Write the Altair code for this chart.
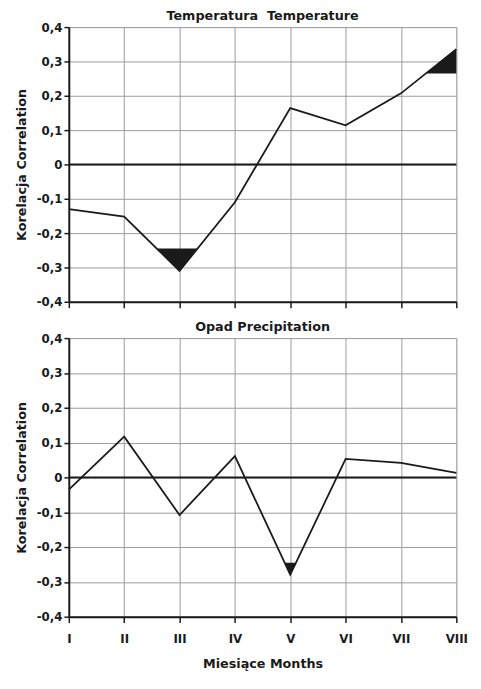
import altair as alt
import pandas as pd

months = ["I", "II", "III", "IV", "V", "VI", "VII", "VIII"]
temperature = [-0.13, -0.152, -0.31, -0.11, 0.164, 0.114, 0.207, 0.336]
precipitation = [-0.035, 0.117, -0.108, 0.061, -0.279, 0.053, 0.042, 0.013]
lower_threshold = -0.245
upper_threshold = 0.265
y_ticks = [-0.4, -0.3, -0.2, -0.1, 0.0, 0.1, 0.2, 0.3, 0.4]

FONT = "DejaVu Sans"
INK = "#1a1a1a"
GRID = "#9a9a9a"


def regions(vals, thr, sign, start_grp):
    out = []
    cur = []
    def ex(v):
        return sign * (v - thr) > 0
    for i, v in enumerate(vals):
        if i > 0:
            p = vals[i - 1]
            if ex(p) != ex(v):
                t = (thr - p) / (v - p)
                cur.append((i - 1 + t, thr))
                if ex(p):
                    out.append(cur)
                    cur = []
        if ex(v):
            cur.append((i, v))
    if cur:
        out.append(cur)
    rows = []
    for g, pts in enumerate(out):
        for x, y in pts:
            rows.append({"x": x, "y": y, "thr": thr, "grp": start_grp + g})
    return rows


month_expr = "[" + ",".join("'%s'" % m for m in months) + "][datum.value]"
y_label_expr = ("datum.value == 0 ? '0' : (datum.value < 0 ? '-' : '') + "
                "replace(format(abs(datum.value), '.1f'), '.', ',')")


def make_axes(show_labels):
    xaxis = alt.Axis(
        values=list(range(len(months))),
        labelExpr=month_expr,
        labels=show_labels,
        labelOverlap=False,
        title="Miesiące Months" if show_labels else None,
        grid=True, gridColor=GRID, gridWidth=1,
        domainColor=INK, domainWidth=2,
        tickColor=INK, tickWidth=1.5, tickSize=6,
        labelFont=FONT, labelFontSize=12, labelFontWeight="bold", labelColor=INK,
        labelPadding=11, labelFlush=False,
        titleFont=FONT, titleFontSize=13, titleFontWeight="bold", titleColor=INK,
        titlePadding=14,
    )
    yaxis = alt.Axis(
        values=y_ticks,
        labelExpr=y_label_expr,
        labelOverlap=False,
        title="Korelacja Correlation",
        grid=True, gridColor=GRID, gridWidth=1,
        domainColor=INK, domainWidth=2,
        tickColor=INK, tickWidth=1.5, tickSize=5,
        labelFont=FONT, labelFontSize=12, labelFontWeight="bold", labelColor=INK,
        labelPadding=2, labelFlush=False,
        titleFont=FONT, titleFontSize=13, titleFontWeight="bold", titleColor=INK,
        titlePadding=8,
    )
    return xaxis, yaxis


def panel(vals, title, show_labels, height):
    df = pd.DataFrame({"x": list(range(len(months))), "y": vals})
    area_rows = regions(vals, lower_threshold, -1, 0)
    area_rows += regions(vals, upper_threshold, 1, 10)
    adf = pd.DataFrame(area_rows)

    xscale = alt.Scale(domain=[0, len(months) - 1], nice=False, zero=False)
    yscale = alt.Scale(domain=[-0.4, 0.4], nice=False)
    xaxis, yaxis = make_axes(show_labels)

    base_line = alt.Chart(df).mark_line(color=INK, strokeWidth=1.8).encode(
        x=alt.X("x:Q", scale=xscale, axis=xaxis),
        y=alt.Y("y:Q", scale=yscale, axis=yaxis),
    )
    zero = alt.Chart(pd.DataFrame({"z": [0.0]})).mark_rule(
        color=INK, strokeWidth=2
    ).encode(y=alt.Y("z:Q", scale=yscale, axis=yaxis))
    area = alt.Chart(adf).mark_area(color=INK, opacity=1).encode(
        x=alt.X("x:Q", scale=xscale, axis=xaxis),
        y=alt.Y("y:Q", scale=yscale, axis=yaxis),
        y2="thr:Q",
        detail="grp:N",
    )
    return alt.layer(base_line, zero, area).properties(
        width=395, height=height,
        title=alt.TitleParams(title, font=FONT, fontSize=13, fontWeight="bold",
                              color=INK, offset=-2, anchor="middle"),
    )


top = panel(temperature, "Temperatura\u00a0 Temperature", False, 280)
bottom = panel(precipitation, "Opad Precipitation", True, 284)

chart = alt.vconcat(top, bottom, spacing=11).properties(
    padding={"left": 7, "top": -5, "right": 5, "bottom": 0}
).configure_view(
    stroke=GRID, strokeWidth=1
).configure(background="white")

chart.save("out.html", embed_options={"renderer": "svg", "actions": False})
